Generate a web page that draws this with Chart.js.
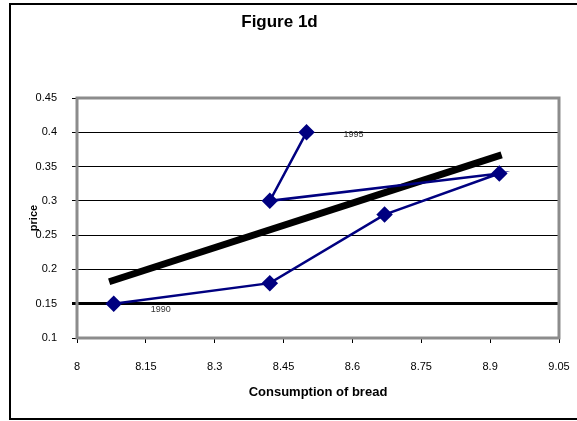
<!DOCTYPE html>
<html>
<head>
<meta charset="utf-8">
<script src="https://cdn.jsdelivr.net/npm/chart.js@4"></script>
<style>
  html, body { margin: 0; padding: 0; background: #fff; }
  #wrap { width: 577px; height: 421px; }
</style>
</head>
<body>
<div id="wrap"><canvas id="chart" width="577" height="421"></canvas></div>
<script>
const years = [1990, 1991, 1992, 1993, 1994, 1995];
const bread = [8.08, 8.42, 8.67, 8.92, 8.42, 8.50];
const price = [0.15, 0.18, 0.28, 0.34, 0.30, 0.40];
const trendX = [8.07, 8.925];
const trendY = [0.182, 0.367];
const baseLine = 0.15;

const font = "'Liberation Sans', Arial, sans-serif";
const fmt = v => String(Math.round(v * 100) / 100);

// white page, outer frame and the grey plot border
const frame = {
  id: "frame",
  beforeDraw(chart) {
    const c = chart.ctx;
    c.save();
    c.fillStyle = "#fff";
    c.fillRect(0, 0, chart.width, chart.height);
    c.strokeStyle = "#000";
    c.lineWidth = 2;
    c.strokeRect(10, 4, 600, 415);
    c.restore();
  },
  beforeDatasetsDraw(chart) {
    const a = chart.chartArea;
    const c = chart.ctx;
    c.save();
    c.strokeStyle = "#8c8c8c";
    c.lineWidth = 3;
    c.strokeRect(a.left, a.top, a.right - a.left, a.bottom - a.top);
    c.restore();
  },
  afterDatasetsDraw(chart) {
    const meta = chart.getDatasetMeta(0);
    const c = chart.ctx;
    c.save();
    c.font = "9px " + font;
    c.fillStyle = "#333";
    c.textBaseline = "middle";
    const first = meta.data[0], last = meta.data[meta.data.length - 1];
    c.fillText(String(years[0]), first.x + 37, first.y + 6);
    c.fillText(String(years[years.length - 1]), last.x + 37, last.y + 2);
    c.restore();
  }
};

new Chart(document.getElementById("chart"), {
  type: "scatter",
  data: {
    datasets: [
      {
        label: "price",
        data: bread.map((x, i) => ({ x, y: price[i] })),
        showLine: true,
        borderColor: "#000080",
        backgroundColor: "#000080",
        borderWidth: 2.5,
        pointStyle: "rectRot",
        pointRadius: 6.5,
        pointHoverRadius: 6.5,
        order: 1
      },
      {
        label: "trend",
        data: trendX.map((x, i) => ({ x, y: trendY[i] })),
        showLine: true,
        borderColor: "#000",
        borderWidth: 7,
        pointRadius: 0,
        order: 2
      }
    ]
  },
  options: {
    responsive: false,
    animation: false,
    layout: { padding: { left: 0, right: 18, top: 0, bottom: 0 } },
    plugins: {
      legend: { display: false },
      tooltip: { enabled: false },
      title: {
        display: true,
        text: "Figure 1d",
        color: "#000",
        font: { family: font, size: 17, weight: "bold" },
        padding: { top: 12, bottom: 65.6 }
      }
    },
    scales: {
      x: {
        type: "linear",
        min: 8,
        max: 9.05,
        afterFit: s => { s.height = 83; s.paddingLeft = 0; s.paddingRight = 0; },
        ticks: {
          stepSize: 0.15,
          color: "#000",
          padding: 17,
          maxRotation: 0,
          autoSkip: false,
          callback: fmt,
          font: { family: font, size: 11 }
        },
        grid: {
          drawOnChartArea: false,
          drawTicks: true,
          tickLength: 5,
          tickColor: "#000",
          tickWidth: 1
        },
        border: { display: false },
        title: {
          display: true,
          text: "Consumption of bread",
          color: "#000",
          font: { family: font, size: 13, weight: "bold" },
          padding: { top: 0, bottom: 21 }
        }
      },
      y: {
        min: 0.1,
        max: 0.45,
        afterFit: s => { s.width = 77; s.paddingTop = 0; s.paddingBottom = 0; },
        ticks: {
          stepSize: 0.05,
          color: "#000",
          padding: 15,
          callback: fmt,
          font: { family: font, size: 11 }
        },
        grid: {
          color: "#000",
          lineWidth: ctx => (ctx.tick && Math.abs(ctx.tick.value - baseLine) < 1e-6 ? 3 : 1),
          drawTicks: true,
          tickLength: 5,
          tickColor: "#000"
        },
        border: { display: false },
        title: {
          display: true,
          text: "price",
          color: "#000",
          font: { family: font, size: 11, weight: "bold" },
          padding: { top: 27.4, bottom: 0 }
        }
      }
    }
  },
  plugins: [frame]
});
</script>
</body>
</html>
